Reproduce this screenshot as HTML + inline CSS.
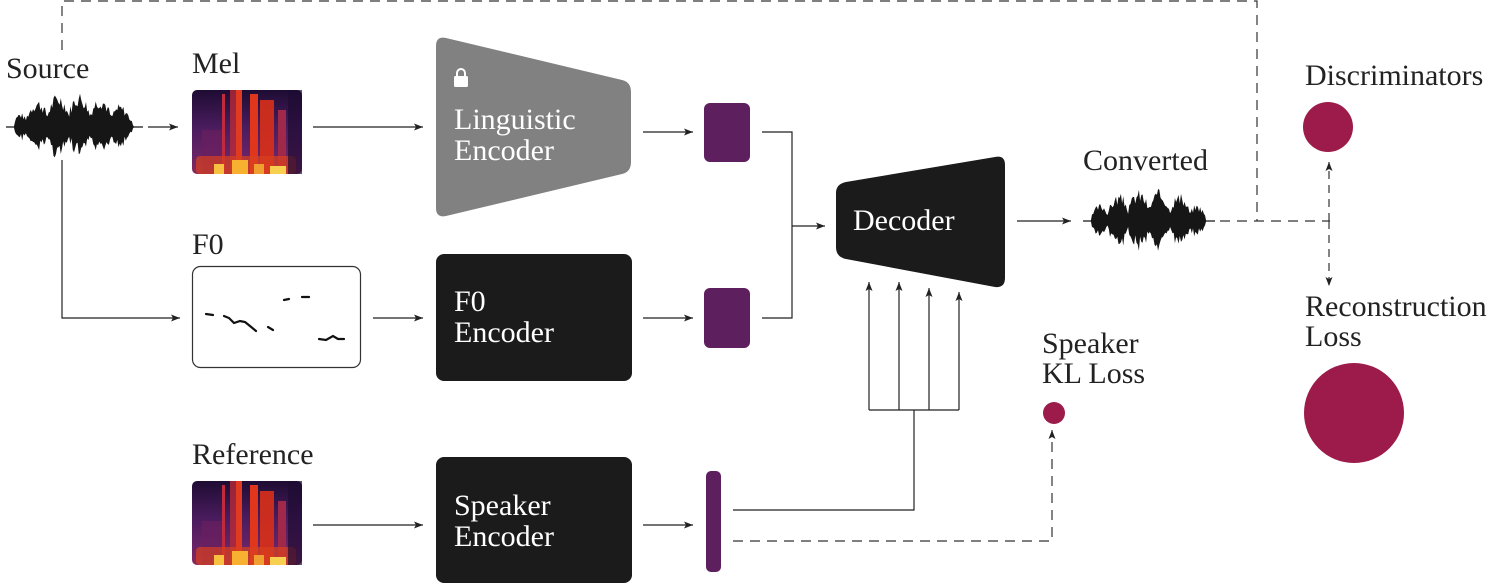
<!DOCTYPE html>
<html><head><meta charset="utf-8"><style>
html,body{margin:0;padding:0;background:#fff}
svg{display:block}
text{font-family:"Liberation Serif",serif}
</style></head><body>
<svg id="s" width="1494" height="585" viewBox="0 0 1494 585" xmlns="http://www.w3.org/2000/svg">
<defs>
<marker id="a" markerWidth="10" markerHeight="8" refX="9" refY="4" orient="auto" markerUnits="userSpaceOnUse"><path d="M0,0.5 L9,4 L0,7.5 L2,4z" fill="#222"/></marker>
<linearGradient id="mg" x1="0" y1="0" x2="0" y2="1"><stop offset="0" stop-color="#1e0c33"/><stop offset="0.45" stop-color="#4a1c5e"/><stop offset="0.8" stop-color="#6a2466"/><stop offset="1" stop-color="#8a2a5a"/></linearGradient>
<g id="mel">
<rect x="0" y="0" width="110" height="84" rx="5" fill="url(#mg)"/>
<rect x="30" y="4" width="3" height="78" fill="#c02a3a"/>
<rect x="38" y="0" width="10" height="84" fill="#b82a38" opacity="0.8"/>
<rect x="44" y="0" width="6" height="84" fill="#e03a20"/>
<rect x="58" y="4" width="8" height="80" fill="#e0361c"/>
<rect x="68" y="10" width="14" height="74" fill="#d83018" opacity="0.9"/>
<rect x="86" y="20" width="8" height="64" fill="#a02848"/>
<rect x="10" y="40" width="20" height="44" fill="#6a2060" opacity="0.7"/>
<rect x="4" y="66" width="100" height="18" rx="4" fill="#d84020" opacity="0.7"/>
<rect x="22" y="74" width="10" height="10" fill="#f8c040"/>
<rect x="40" y="70" width="16" height="14" fill="#f8b030"/>
<rect x="62" y="74" width="10" height="10" fill="#f0a030"/>
<rect x="78" y="76" width="16" height="8" fill="#f8d050"/>
<rect x="96" y="0" width="14" height="84" fill="#1e0c33" opacity="0.7"/>
</g>
</defs>

<path d="M62,50 V1 H1257 V221" fill="none" stroke="#333" stroke-width="1.2" stroke-dasharray="10,7"/>

<text x="6" y="78" font-size="30" fill="#222">Source</text>
<text x="192" y="73" font-size="30" fill="#222">Mel</text>
<g id="w1"></g>
<path d="M148,127 H178" stroke="#222" stroke-width="1.2" marker-end="url(#a)"/>
<use href="#mel" x="192" y="90"/>
<path d="M313,127 H423" stroke="#222" stroke-width="1.2" marker-end="url(#a)"/>

<path d="M446,38 L622,80 Q631,82 631,92 L631,162 Q631,172 622,174 L446,216 Q436,218 436,208 L436,46 Q436,36 446,38z" fill="#818181"/>
<rect x="454" y="76" width="14" height="11" rx="1.5" fill="#fff"/>
<path d="M457,77 V73 a4,4 0 0 1 8,0 V77" fill="none" stroke="#fff" stroke-width="2"/>
<text x="454" y="129" font-size="30" fill="#fff">Linguistic</text>
<text x="454" y="160" font-size="30" fill="#fff">Encoder</text>
<path d="M643,132 H693" stroke="#222" stroke-width="1.2" marker-end="url(#a)"/>
<rect x="704" y="103" width="46" height="59" rx="6" fill="#5e1f5e"/>
<path d="M762,132 H792 V318 H762" fill="none" stroke="#222" stroke-width="1.2"/>
<path d="M792,226 H825" stroke="#222" stroke-width="1.2" marker-end="url(#a)"/>

<path d="M62,160 V318 H180" fill="none" stroke="#222" stroke-width="1.2" marker-end="url(#a)"/>
<text x="192" y="254" font-size="30" fill="#222">F0</text>
<rect x="192.5" y="266.5" width="168" height="101" rx="8" fill="#fff" stroke="#333" stroke-width="1.2"/>
<g fill="none" stroke="#111" stroke-width="2.2" stroke-linecap="round">
<path d="M206,314 L213,315"/>
<path d="M224,316 L229,318 L234,323 L240,321 L245,322 L250,326 L256,331"/>
<path d="M268,327 L273,330"/>
<path d="M284,300 L289,299"/>
<path d="M302,297 L309,297"/>
<path d="M319,339 L326,340 L333,336 L338,339 L344,339"/>
</g>
<path d="M373,318 H423" stroke="#222" stroke-width="1.2" marker-end="url(#a)"/>
<rect x="436" y="254" width="196" height="127" rx="8" fill="#1b1b1b"/>
<text x="454" y="311" font-size="30" fill="#fff">F0</text>
<text x="454" y="342" font-size="30" fill="#fff">Encoder</text>
<path d="M643,318 H693" stroke="#222" stroke-width="1.2" marker-end="url(#a)"/>
<rect x="704" y="288" width="46" height="60" rx="6" fill="#5e1f5e"/>

<text x="192" y="464" font-size="30" fill="#222">Reference</text>
<use href="#mel" x="192" y="481"/>
<path d="M313,525 H423" stroke="#222" stroke-width="1.2" marker-end="url(#a)"/>
<rect x="436" y="457" width="196" height="126" rx="8" fill="#1b1b1b"/>
<text x="454" y="515" font-size="30" fill="#fff">Speaker</text>
<text x="454" y="546" font-size="30" fill="#fff">Encoder</text>
<path d="M643,525 H693" stroke="#222" stroke-width="1.2" marker-end="url(#a)"/>
<rect x="706" y="471" width="15" height="101" rx="5" fill="#5e1f5e"/>
<path d="M733,510 H914 V410 M869,410 H959" fill="none" stroke="#222" stroke-width="1.2"/>
<g stroke="#222" stroke-width="1.2">
<path d="M869,410 V282" marker-end="url(#a)"/>
<path d="M899,410 V282" marker-end="url(#a)"/>
<path d="M929,410 V288" marker-end="url(#a)"/>
<path d="M959,410 V292" marker-end="url(#a)"/>
</g>
<path d="M733,541 H1052 V430" fill="none" stroke="#333" stroke-width="1.2" stroke-dasharray="10,7" marker-end="url(#a)"/>
<text x="1042" y="353" font-size="30" fill="#222">Speaker</text>
<text x="1042" y="383" font-size="30" fill="#222">KL Loss</text>
<circle cx="1054" cy="413" r="11" fill="#9c1b4a"/>

<path d="M846,182 L995,157 Q1005,155 1005,165 L1005,278 Q1005,288 995,287 L846,259 Q836,257 836,247 L836,193 Q836,184 846,182z" fill="#1b1b1b"/>
<text x="853" y="230" font-size="30" fill="#fff">Decoder</text>
<path d="M1017,221 H1071" stroke="#222" stroke-width="1.2" marker-end="url(#a)"/>
<text x="1083" y="170" font-size="30" fill="#222">Converted</text>
<g id="w2"></g>
<path d="M1220,221 H1330" stroke="#333" stroke-width="1.2" stroke-dasharray="10,7"/>
<path d="M1329,221 V162" stroke="#333" stroke-width="1.2" stroke-dasharray="8,6" marker-end="url(#a)"/>
<path d="M1329,221 V286" stroke="#333" stroke-width="1.2" stroke-dasharray="8,6" marker-end="url(#a)"/>
<text x="1305" y="85" font-size="30" fill="#222">Discriminators</text>
<circle cx="1328" cy="127" r="25" fill="#9c1b4a"/>
<text x="1305" y="316" font-size="30" fill="#222">Reconstruction</text>
<text x="1305" y="346" font-size="30" fill="#222">Loss</text>
<circle cx="1354" cy="413" r="50" fill="#9c1b4a"/>
</svg>
<script>
function wave(id,x0,w,cy,amp,seed){
  var s=seed;function r(){s=(s*9301+49297)%233280;return s/233280;}
  var n=Math.floor(w/1.2),top=[],bot=[];
  for(var i=0;i<=n;i++){
    var t=i/n,x=x0+t*w;
    var env=Math.sin(Math.PI*Math.min(1,Math.max(0,(t-0.04)/0.92)));
    env=Math.pow(env,0.4)*(0.35+0.65*Math.pow(Math.abs(Math.sin(t*19+seed)),0.7));
    var a=amp*env*(0.55+0.45*r());
    top.push(x.toFixed(1)+","+(cy-a).toFixed(1));
    bot.unshift(x.toFixed(1)+","+(cy+a*(0.75+0.25*r())).toFixed(1));
  }
  var g=document.getElementById(id);
  var p=document.createElementNS("http://www.w3.org/2000/svg","polygon");
  p.setAttribute("points",top.concat(bot).join(" "));p.setAttribute("fill","#161616");
  g.appendChild(p);
  var l=document.createElementNS("http://www.w3.org/2000/svg","path");
  l.setAttribute("d","M"+(x0-3)+","+cy+" H"+(x0+w+4));l.setAttribute("stroke","#161616");l.setAttribute("stroke-width","1.2");
  g.appendChild(l);
}
wave("w1",9,130,127,36,7);
wave("w2",1086,125,221,33,3);
</script>
</body></html>
